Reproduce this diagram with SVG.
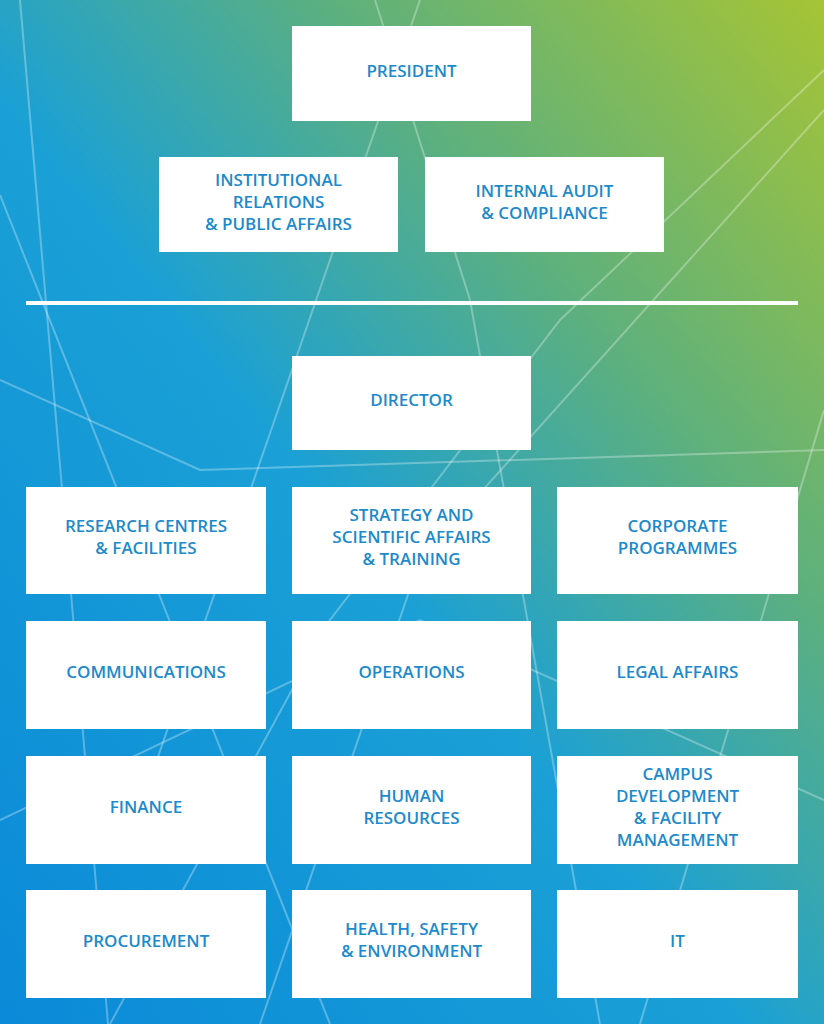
<svg xmlns="http://www.w3.org/2000/svg" width="824" height="1024" viewBox="0 0 824 1024">
<defs>
<linearGradient id="bg" x1="0" y1="1" x2="1" y2="0">
<stop offset="0" stop-color="#0a8ad8"/>
<stop offset="0.45" stop-color="#1aa0d6"/>
<stop offset="0.7" stop-color="#5db07e"/>
<stop offset="1" stop-color="#a6c435"/>
</linearGradient>
<style>
.b{fill:#fff}
.t{font-family:"Open Sans","Liberation Sans",sans-serif;font-weight:600;font-size:17px;fill:#1c8acb;text-anchor:middle}
.l{stroke:#fff;stroke-opacity:0.3;stroke-width:2;fill:none}
</style>
</defs>
<rect width="824" height="1024" fill="url(#bg)"/>
<g id="bglines">
<path class="l" d="M20 0 L108 1024"/>
<path class="l" d="M0 195 L330 1024"/>
<path class="l" d="M375 0 L470 300 L600 1024"/>
<path class="l" d="M420 0 L150 780"/>
<path class="l" d="M824 110 L420 560 L260 1024"/>
<path class="l" d="M824 70 L560 320 L330 620 L110 1024"/>
<path class="l" d="M0 380 L200 470 L824 450"/>
<path class="l" d="M0 820 L420 620 L824 800"/>
<path class="l" d="M824 410 L640 1024"/>
</g>
<g id="connectors">
<rect x="26" y="301" width="772" height="4" fill="#fff"/>
</g>
<g id="president"><rect class="b" x="292" y="26" width="239" height="95"/><text class="t" x="411.5" y="77">PRESIDENT</text></g>
<g id="institutional"><rect class="b" x="159" y="157" width="239" height="95"/><text class="t" x="278.5" y="186">INSTITUTIONAL</text><text class="t" x="278.5" y="208">RELATIONS</text><text class="t" x="278.5" y="230">&amp; PUBLIC AFFAIRS</text></g>
<g id="audit"><rect class="b" x="425" y="157" width="239" height="95"/><text class="t" x="544.5" y="197">INTERNAL AUDIT</text><text class="t" x="544.5" y="219">&amp; COMPLIANCE</text></g>
<g id="director"><rect class="b" x="292" y="356" width="239" height="94"/><text class="t" x="411.5" y="406">DIRECTOR</text></g>
<g id="research"><rect class="b" x="26" y="487" width="240" height="107"/><text class="t" x="146" y="532">RESEARCH CENTRES</text><text class="t" x="146" y="554">&amp; FACILITIES</text></g>
<g id="strategy"><rect class="b" x="292" y="487" width="239" height="107"/><text class="t" x="411.5" y="521">STRATEGY AND</text><text class="t" x="411.5" y="543">SCIENTIFIC AFFAIRS</text><text class="t" x="411.5" y="565">&amp; TRAINING</text></g>
<g id="corporate"><rect class="b" x="557" y="487" width="241" height="107"/><text class="t" x="677.5" y="532">CORPORATE</text><text class="t" x="677.5" y="554">PROGRAMMES</text></g>
<g id="communications"><rect class="b" x="26" y="621" width="240" height="108"/><text class="t" x="146" y="678">COMMUNICATIONS</text></g>
<g id="operations"><rect class="b" x="292" y="621" width="239" height="108"/><text class="t" x="411.5" y="678">OPERATIONS</text></g>
<g id="legal"><rect class="b" x="557" y="621" width="241" height="108"/><text class="t" x="677.5" y="678">LEGAL AFFAIRS</text></g>
<g id="finance"><rect class="b" x="26" y="756" width="240" height="108"/><text class="t" x="146" y="813">FINANCE</text></g>
<g id="hr"><rect class="b" x="292" y="756" width="239" height="108"/><text class="t" x="411.5" y="802">HUMAN</text><text class="t" x="411.5" y="824">RESOURCES</text></g>
<g id="campus"><rect class="b" x="557" y="756" width="241" height="108"/><text class="t" x="677.5" y="780">CAMPUS</text><text class="t" x="677.5" y="802">DEVELOPMENT</text><text class="t" x="677.5" y="824">&amp; FACILITY</text><text class="t" x="677.5" y="846">MANAGEMENT</text></g>
<g id="procurement"><rect class="b" x="26" y="890" width="240" height="108"/><text class="t" x="146" y="947">PROCUREMENT</text></g>
<g id="hse"><rect class="b" x="292" y="890" width="239" height="108"/><text class="t" x="411.5" y="935">HEALTH, SAFETY</text><text class="t" x="411.5" y="957">&amp; ENVIRONMENT</text></g>
<g id="it"><rect class="b" x="557" y="890" width="241" height="108"/><text class="t" x="677.5" y="947">IT</text></g>
</svg>
